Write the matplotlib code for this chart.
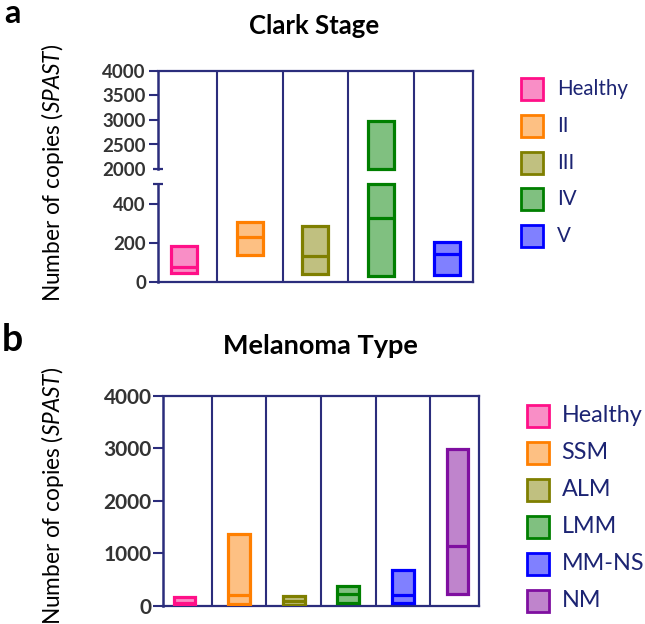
import numpy as np
import matplotlib
matplotlib.use('Agg')
import matplotlib.pyplot as plt
from matplotlib.patches import Rectangle
from matplotlib.transforms import blended_transform_factory

plt.rcParams['font.family'] = ['Lato', 'DejaVu Sans']
plt.rcParams['mathtext.fontset'] = 'custom'
plt.rcParams['mathtext.rm'] = 'Lato'
plt.rcParams['mathtext.it'] = 'Lato:italic'

# ---------------- data ----------------
clark_stages = ['Healthy', 'II', 'III', 'IV', 'V']
clark_min = [45, 137, 39, 30, 38]
clark_median = [77, 231, 133, 327, 145]
clark_max = [186, 306, 289, 2980, 204]
clark_ticks = [0, 200, 400, 2000, 2500, 3000, 3500, 4000]

type_names = ['Healthy', 'SSM', 'ALM', 'LMM', 'MM-NS', 'NM']
type_min = [38, 30, 12, 57, 51, 223]
type_median = [60, 210, 90, 223, 204, 1139]
type_max = [172, 1362, 185, 382, 681, 2985]
type_ticks = [0, 1000, 2000, 3000, 4000]

edge_cols = ['#ff1088', '#ff7f00', '#7f7f00', '#007f00', '#0000ff', '#7f0fa0']
fill_cols = ['#f98ec6', '#fdc083', '#c0c080', '#80c080', '#8080ff', '#bf84cc']

NAVY = '#2b2d7c'
TEXT_NAVY = '#1c2473'
TICK_COL = '#333333'

W, H = 645, 624
fig = plt.figure(figsize=(W / 100, H / 100), dpi=100)


def px_axes(left, right, top, bottom):
    return fig.add_axes([left / W, 1 - bottom / H, (right - left) / W, (bottom - top) / H])


def style_axes(ax):
    for s in ['top', 'right', 'bottom', 'left']:
        ax.spines[s].set_color(NAVY)
        ax.spines[s].set_linewidth(1.6)
    ax.set_xticks([])


def draw_boxes(ax, mins, meds, maxs, ranges):
    for i, (lo, md, hi) in enumerate(zip(mins, meds, maxs)):
        for a, b in ranges:
            s, e = max(lo, a), min(hi, b)
            if e > s:
                ax.bar(i, e - s, bottom=s, width=0.4, color=fill_cols[i],
                       edgecolor=edge_cols[i], linewidth=2.3, joinstyle='miter', zorder=3)
        ax.hlines(md, i - 0.2, i + 0.2, color=edge_cols[i], lw=2.3, zorder=4)


def legend(names, sq_x, row0, step, txt_x, fs):
    for i, n in enumerate(names):
        yc = row0 + step * i
        fig.add_artist(Rectangle((sq_x / W, 1 - (yc + 11) / H), 22 / W, 22 / H,
                                 transform=fig.transFigure, facecolor=fill_cols[i],
                                 edgecolor=edge_cols[i], lw=2))
        fig.text(txt_x / W, 1 - yc / H, n, va='center', ha='left', color=TEXT_NAVY, fontsize=fs)


# ---------------- panel a ----------------
axa = px_axes(157.7, 473, 71, 282)
brk_v = [0, 500, 2000, 4000]
brk_u = [0, 97.5, 113, 211]
axa.set_yscale('function', functions=(lambda v: np.interp(v, brk_v, brk_u),
                                      lambda u: np.interp(u, brk_u, brk_v)))
axa.set_xlim(-0.4, len(clark_stages) - 0.6)
axa.set_ylim(0, 4000)
style_axes(axa)
axa.spines['left'].set_visible(False)
for i in range(len(clark_stages) - 1):
    axa.axvline(i + 0.5, color=NAVY, lw=1.5, zorder=1)
draw_boxes(axa, clark_min, clark_median, clark_max, [(0, 500), (2000, 4000)])
tr = blended_transform_factory(axa.transAxes, axa.transData)
for a, b in [(0, 500), (2000, 4000)]:
    axa.plot([0, 0], [a, b], transform=tr, color=NAVY, lw=1.8, clip_on=False,
             solid_capstyle='projecting', zorder=5)
axa.plot([0, 0], [500, 2000], transform=tr, ls='none', marker='_', ms=7, mew=1.6,
         color=NAVY, clip_on=False, zorder=5)
axa.set_yticks(clark_ticks, labels=[str(t) for t in clark_ticks], fontweight='bold')
axa.yaxis.set_minor_locator(matplotlib.ticker.NullLocator())
axa.tick_params(axis='y', length=6.5, width=1.5, color=NAVY, pad=2, labelsize=13.5,
                labelcolor=TICK_COL)
axa.yaxis.get_major_ticks()[3].tick1line.set_visible(False)

fig.text(53 / W, 1 - 173 / H, r'Number of copies ($SPAST$)', rotation=90,
         ha='center', va='center', fontsize=16.3)
fig.text(313.7 / W, 1 - 26 / H, 'Clark Stage', ha='center', va='center',
         fontsize=18.5, fontweight='bold')
fig.text(4 / W, 1 - 23 / H, 'a', ha='left', va='baseline', fontsize=23.5, fontweight='bold')
legend(clark_stages, 521, 89.3, 36.6, 556.7, 14.8)

# ---------------- panel b ----------------
axb = px_axes(162.7, 479.3, 396, 605.7)
axb.set_xlim(-0.4, len(type_names) - 0.6)
axb.set_ylim(0, 4000)
style_axes(axb)
axb.spines['left'].set_linewidth(1.8)
for i in range(len(type_names) - 1):
    axb.axvline(i + 0.5, color=NAVY, lw=1.5, zorder=1)
draw_boxes(axb, type_min, type_median, type_max, [(0, 4000)])
axb.set_yticks(type_ticks, labels=[str(t) for t in type_ticks], fontweight='bold')
axb.tick_params(axis='y', length=7, width=1.5, color=NAVY, pad=1, labelsize=15,
                labelcolor=TICK_COL)

fig.text(53 / W, 1 - 496 / H, r'Number of copies ($SPAST$)', rotation=90,
         ha='center', va='center', fontsize=16.3)
fig.text(320 / W, 1 - 346 / H, 'Melanoma Type', ha='center', va='center',
         fontsize=19.5, fontweight='bold')
fig.text(2 / W, 1 - 351 / H, 'b', ha='left', va='baseline', fontsize=27, fontweight='bold')
legend(type_names, 526.7, 416, 36.9, 561.7, 16.8)

fig.savefig('out.png', dpi=100)
